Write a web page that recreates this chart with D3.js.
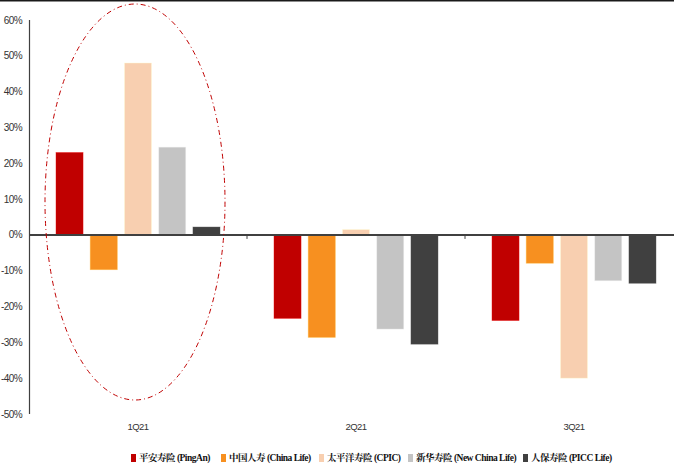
<!DOCTYPE html>
<html><head><meta charset="utf-8">
<script src="https://cdn.jsdelivr.net/npm/d3@7"></script>
<style>body{margin:0;background:#fff}svg{display:block}</style>
</head><body>
<script>
const categories = ["1Q21", "2Q21", "3Q21"];
const seriesNames = ["平安寿险 (PingAn)", "中国人寿 (China Life)", "太平洋寿险 (CPIC)", "新华寿险 (New China Life)", "人保寿险 (PICC Life)"];
const pingAn = [23.0, -23.3, -23.9];
const chinaLife = [-9.7, -28.6, -7.9];
const cpic = [48.0, 1.5, -40.0];
const newChinaLife = [24.5, -26.3, -12.8];
const piccLife = [2.2, -30.5, -13.5];
const yTicks = [60, 50, 40, 30, 20, 10, 0, -10, -20, -30, -40, -50];
const colors = ["#C00000", "#F79020", "#F8CFB0", "#C4C4C4", "#404040"];
const seriesValues = [pingAn, chinaLife, cpic, newChinaLife, piccLife];

const W = 674, H = 468;
const svg = d3.select("body").append("svg").attr("width", W).attr("height", H);

// top border line
svg.append("rect").attr("x", 0).attr("y", 0).attr("width", W).attr("height", 1.5).attr("fill", "#1a1a1a");

const y = d3.scaleLinear().domain([-50, 60]).range([414, 20]);
const x0 = d3.scaleBand().domain(categories).range([29, 683]);
const x1 = d3.scaleBand().domain(d3.range(seriesNames.length)).range([27, 191]).paddingInner(0.21);

// y axis labels
svg.append("g").selectAll("text").data(yTicks).join("text")
  .attr("x", 22).attr("y", d => y(d)).attr("dy", "0.35em")
  .attr("text-anchor", "end")
  .attr("font-family", "Liberation Sans, Arial, sans-serif")
  .attr("font-size", 10).attr("letter-spacing", "-0.6")
  .attr("fill", "#333")
  .text(d => d + "%");

// y axis line
svg.append("line").attr("x1", 29.5).attr("x2", 29.5).attr("y1", y(60)).attr("y2", y(-50))
  .attr("stroke", "#404040").attr("stroke-width", 1.2);

// bars
const g = svg.append("g");
categories.forEach((c, ci) => {
  seriesValues.forEach((vals, si) => {
    const v = vals[ci];
    g.append("rect")
      .attr("x", x0(c) + x1(si))
      .attr("width", x1.bandwidth())
      .attr("y", y(Math.max(0, v)))
      .attr("height", Math.abs(y(v) - y(0)))
      .attr("fill", colors[si])
      .attr("stroke", d3.color(colors[si]).brighter(0.6))
      .attr("stroke-opacity", 0.5)
      .attr("stroke-width", 0.8);
  });
});

// zero line
svg.append("line").attr("x1", 29).attr("x2", W).attr("y1", y(0)).attr("y2", y(0))
  .attr("stroke", "#404040").attr("stroke-width", 2);

// category ticks
svg.append("g").selectAll("line").data(categories.slice(1)).join("line")
  .attr("x1", d => x0(d)).attr("x2", d => x0(d))
  .attr("y1", y(0)).attr("y2", y(0) + 4)
  .attr("stroke", "#404040").attr("stroke-width", 1);

// category labels
svg.append("g").selectAll("text").data(categories).join("text")
  .attr("x", d => x0(d) + x1(0) + (x1(4) + x1.bandwidth() - x1(0)) / 2)
  .attr("y", 430)
  .attr("text-anchor", "middle")
  .attr("font-family", "Liberation Sans, Arial, sans-serif")
  .attr("font-size", 9.5).attr("letter-spacing", "-0.5")
  .attr("fill", "#333")
  .text(d => d);

// ellipse highlight
svg.append("ellipse")
  .attr("cx", 135).attr("cy", 202).attr("rx", 90).attr("ry", 198)
  .attr("fill", "none").attr("stroke", "#C00000").attr("stroke-width", 1)
  .attr("stroke-dasharray", "5,3,1,3");

// legend
const legendX = [131, 221, 319, 408, 523];
const leg = svg.append("g");
seriesNames.forEach((n, i) => {
  leg.append("rect").attr("x", legendX[i]).attr("y", 454).attr("width", 5).attr("height", 8).attr("fill", colors[i]);
  leg.append("text").attr("x", legendX[i] + 8).attr("y", 458).attr("dy", "0.35em")
    .attr("font-family", "Liberation Serif, 'Noto Serif CJK SC', 'Noto Sans CJK SC', serif")
    .attr("font-weight", "bold").attr("font-size", 9.5).attr("letter-spacing", "-0.5")
    .attr("fill", "#111")
    .text(n);
});
</script>
</body></html>
